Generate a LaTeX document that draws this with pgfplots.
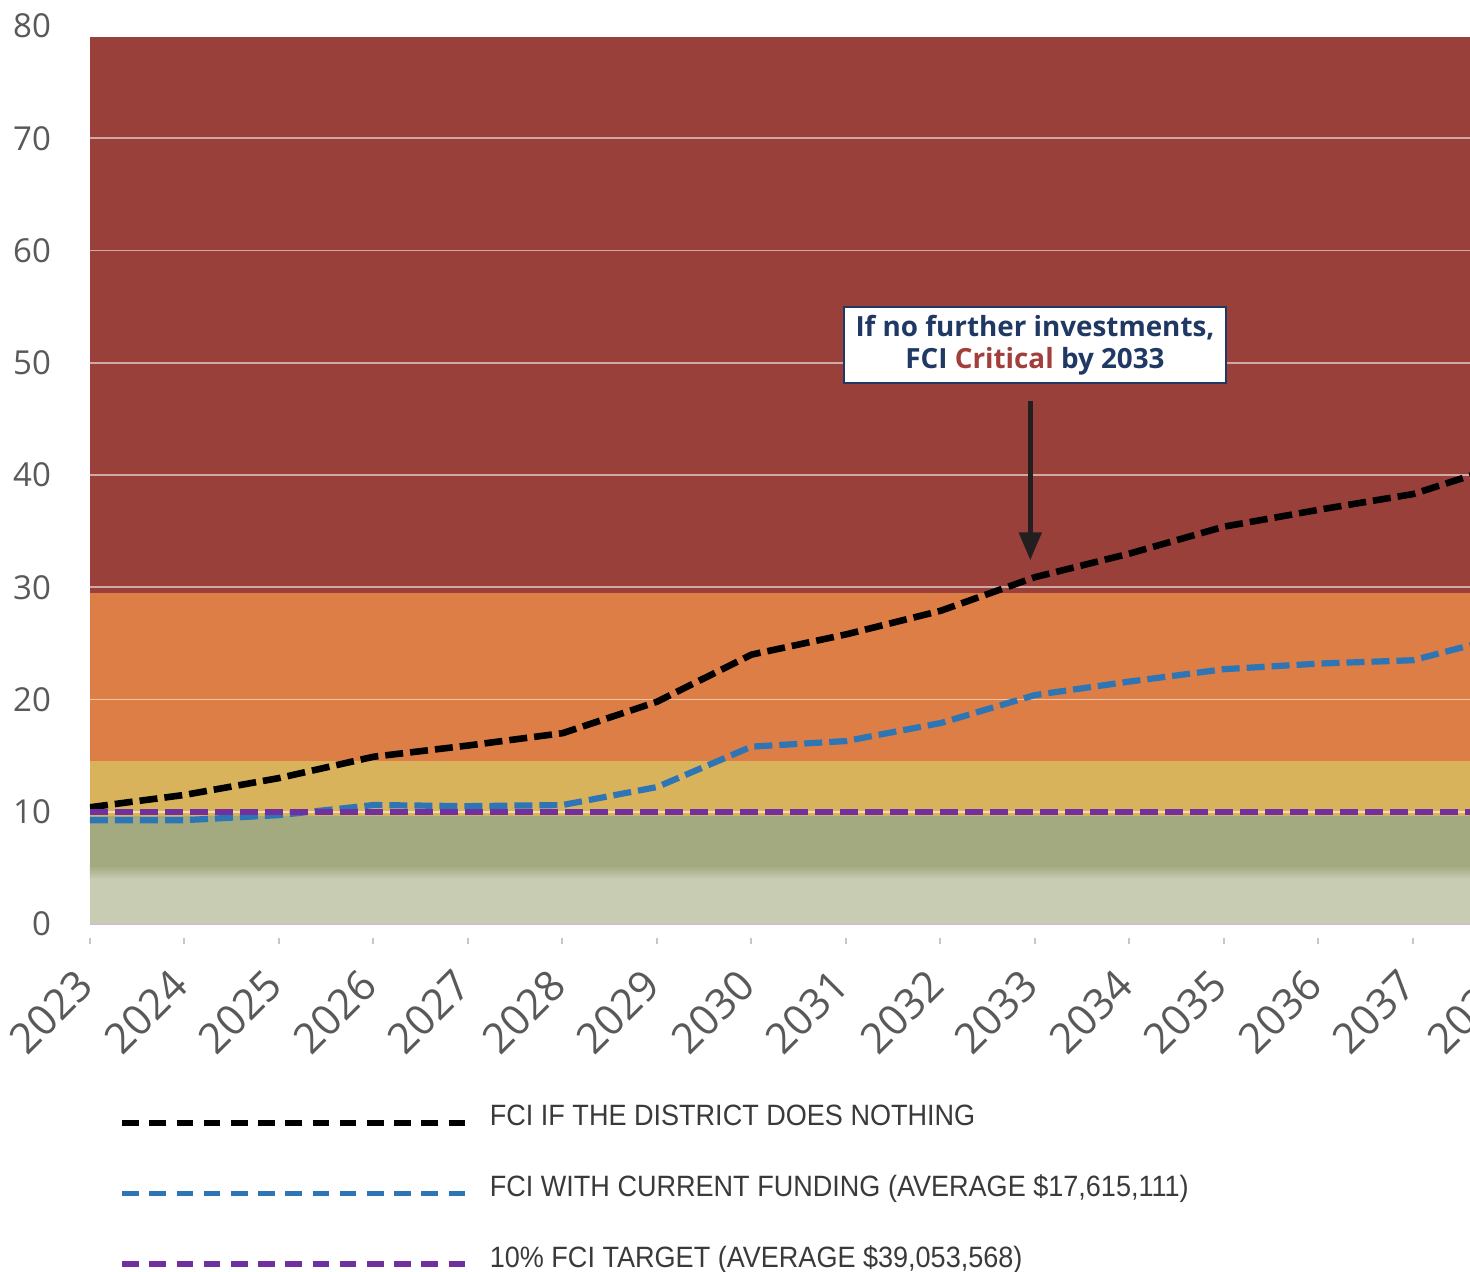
\documentclass[border=0pt]{standalone}
\usepackage{pgfplots}
\pgfplotsset{compat=1.18}
\usepackage{fontspec}
\setmainfont{Open Sans}
\newfontfamily\condfont[FakeStretch=0.92]{Liberation Sans}
\newfontfamily\annfont{Open Sans}
\usetikzlibrary{arrows.meta}
\definecolor{bandred}{HTML}{99403B}
\definecolor{bandorange}{HTML}{DC7E46}
\definecolor{bandyellow}{HTML}{D9B25C}
\definecolor{bandgreen}{HTML}{A3AA80}
\definecolor{bandlight}{HTML}{C8CCB3}
\definecolor{lineblue}{HTML}{2E75B6}
\definecolor{linepurple}{HTML}{7030A0}
\definecolor{navy}{HTML}{1F3864}
\definecolor{critred}{HTML}{A33F3A}
\definecolor{ticktext}{HTML}{595959}
\definecolor{legtext}{HTML}{3A3A3A}
\definecolor{arrowgray}{HTML}{231F20}
\begin{document}
\begin{tikzpicture}
\path[use as bounding box] (-45pt,-173.5pt) rectangle (690pt,462pt);
\begin{axis}[
  at={(0pt,0pt)}, anchor=south west,
  scale only axis, width=708.75pt, height=449pt,
  xmin=2023, xmax=2038, ymin=0, ymax=80,
  axis x line*=bottom, axis y line*=left,
  x axis line style={draw=linepurple!35, line width=0.6pt},
  y axis line style={draw=none},
  xtick={2023,...,2038}, ytick={0,10,...,80},
  /pgf/number format/1000 sep={},
  /pgf/number format/assume math mode=true,
  tick align=outside, major tick length=3pt,
  xtick style={draw=black!22, line width=1pt, yshift=-7pt},
  ytick style={draw=none},
  xticklabel style={rotate=45, anchor=east, font=\fontsize{21}{21}\selectfont, text=ticktext},
  yticklabel style={anchor=east, font=\fontsize{16.5}{16.5}\selectfont, text=ticktext},
  xticklabel shift=21.5pt,
  yticklabel shift=13pt,
  legend cell align=left,
  legend style={at={(0.0205,-0.197)}, anchor=north west, draw=none, fill=none,
    font=\condfont\fontsize{14.7}{14.7}\selectfont, text=legtext,
    row sep=19pt, inner sep=0pt,
    /tikz/every odd column/.append style={column sep=7.5pt}},
  legend image code/.code={\draw[#1, line width=2.7pt, line cap=butt, dash pattern=on 8.3pt off 5.3pt] (0pt,-3pt) -- (173pt,-3pt);},
]
% background bands
\addplot[draw=none, fill=bandred, forget plot] coordinates {(2023,79) (2038,79)} \closedcycle;
\addplot[draw=none, fill=bandorange, forget plot] coordinates {(2023,29.5) (2038,29.5)} \closedcycle;
\addplot[draw=none, fill=bandyellow, forget plot] coordinates {(2023,14.5) (2038,14.5)} \closedcycle;
\addplot[draw=none, fill=bandgreen, forget plot] coordinates {(2023,9.6) (2038,9.6)} \closedcycle;
\addplot[draw=none, fill=bandlight, forget plot] coordinates {(2023,4.1) (2038,4.1)} \closedcycle;
\addplot[draw=none, forget plot, bottom color=bandlight, top color=bandgreen] coordinates {(2023,4.0) (2038,4.0) (2038,5.2) (2023,5.2)} -- cycle;
% grid lines
\pgfplotsinvokeforeach{10,20,30,40,50,60,70}{
  \addplot[forget plot, white, opacity=0.55, line width=0.8pt] coordinates {(2023,#1) (2038,#1)};
}
% data
\addplot[black, line width=3.3pt, dash pattern=on 9pt off 3.5pt] coordinates {
(2023,10.4) (2024,11.5) (2025,13.0) (2026,14.9) (2027,15.9) (2028,17.0) (2029,19.8) (2030,24.0)
(2031,25.8) (2032,27.9) (2033,30.9) (2034,33.0) (2035,35.4) (2036,36.9) (2037,38.3) (2038,41.0)};
\addlegendentry{FCI IF THE DISTRICT DOES NOTHING}
\addplot[lineblue, line width=3.1pt, dash pattern=on 9pt off 3.5pt] coordinates {
(2023,9.25) (2024,9.25) (2025,9.7) (2026,10.6) (2027,10.5) (2028,10.6) (2029,12.2) (2030,15.8)
(2031,16.3) (2032,17.9) (2033,20.4) (2034,21.6) (2035,22.7) (2036,23.2) (2037,23.5) (2038,25.7)};
\addlegendentry{FCI WITH CURRENT FUNDING (AVERAGE \$17,615,111)}
\addplot[linepurple, line width=3.1pt, dash pattern=on 9pt off 3.5pt] coordinates {
(2023,10) (2024,10) (2025,10) (2026,10) (2027,10) (2028,10) (2029,10) (2030,10)
(2031,10) (2032,10) (2033,10) (2034,10) (2035,10) (2036,10) (2037,10) (2038,10)};
\addlegendentry{10\% FCI TARGET (AVERAGE \$39,053,568)}
% annotation
\node[draw=navy, line width=1pt, fill=white, align=center, inner sep=2pt,
  minimum width=191pt, minimum height=38pt, text=navy,
  font=\annfont\bfseries\fontsize{13.9}{16}\selectfont]
  at (axis cs:2033,51.6) {If no further investments,\\FCI \textcolor{critred}{Critical} by 2033};
\draw[-{Triangle[length=14pt,width=11pt]}, line width=2.5pt, arrowgray]
  (axis cs:2032.95,46.6) -- (axis cs:2032.95,32.4);
\end{axis}
\end{tikzpicture}
\end{document}
